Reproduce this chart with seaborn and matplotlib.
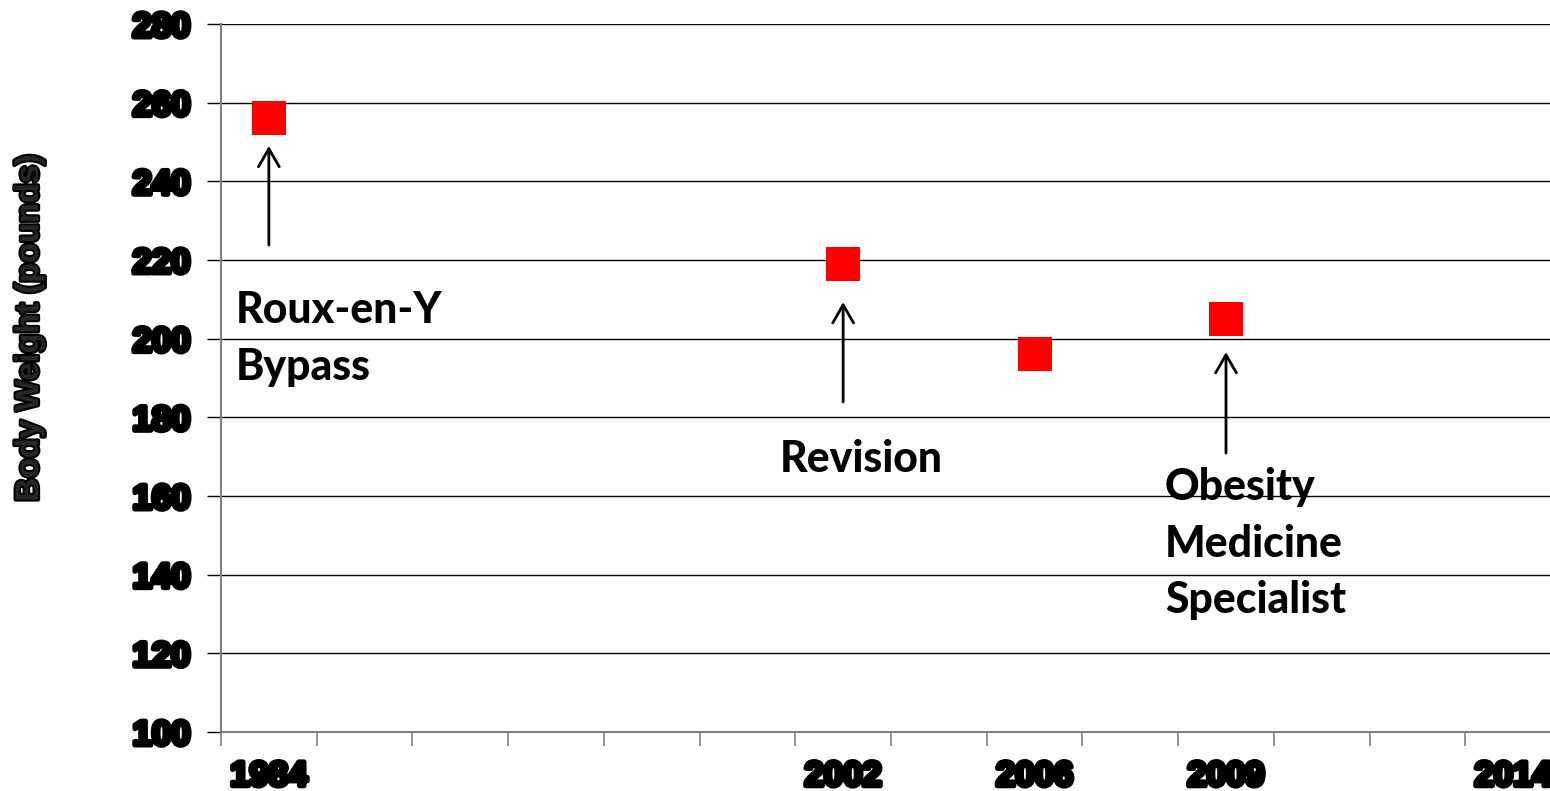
import matplotlib
matplotlib.use("Agg")
import matplotlib.pyplot as plt
import matplotlib.patheffects as pe
import seaborn as sns
import pandas as pd

# Category slots along the time axis (blank slots keep the spacing)
axis_labels = ["1984", "", "", "", "", "", "2002", "", "2006", "", "2009", "", "", "2014"]

# Measured body weights
years = ["1984", "2002", "2006", "2009"]
weights = [256, 219, 196, 205]

# Annotated events: year slot, arrow tail, arrow head, text
event_years = ["1984", "2002", "2009"]
event_tail = [223.8, 183.9, 170.9]
event_head = [249.0, 209.3, 196.6]
event_text = ["Roux-en-Y\nBypass", "Revision", "Obesity\nMedicine\nSpecialist"]
event_text_xy = [(-0.35, 212.3), (5.34, 174.5), (9.36, 167.3)]

y_ticks = list(range(100, 281, 20))

df = pd.DataFrame({
    "pos": [axis_labels.index(y) for y in years],
    "weight": weights,
})

sns.set_style("white")
fig = plt.figure(figsize=(15.5, 7.91), dpi=100)
ax = fig.add_axes([221 / 1550, 59 / 791, 1340 / 1550, 708 / 791])

sns.scatterplot(data=df, x="pos", y="weight", marker="s", s=600,
                color="#ff0000", linewidth=0, ax=ax, zorder=3, legend=False)

ax.set_xlim(-0.5, len(axis_labels) - 0.5)
ax.set_ylim(100, 280)

# Horizontal gridlines
ax.set_yticks(y_ticks)
ax.yaxis.grid(True, color="black", linewidth=1.0)
ax.xaxis.grid(False)
ax.set_axisbelow(True)

# Slot boundaries carry the tick marks, slot centres carry the labels
ax.set_xticks([i - 0.5 for i in range(len(axis_labels) + 1)])
ax.set_xticklabels([])
ax.set_xticks(list(range(len(axis_labels))), minor=True)
ax.set_xticklabels(axis_labels, minor=True)
ax.tick_params(axis="x", which="major", length=10, width=1.2, color="#808080",
               direction="out", bottom=True)
ax.tick_params(axis="x", which="minor", length=0, pad=20)
ax.tick_params(axis="y", length=10, width=1.0, color="black", direction="out",
               left=True, pad=12)

heavy = [pe.withStroke(linewidth=3.6, foreground="black")]
for lab in ax.get_yticklabels() + ax.get_xticklabels(minor=True):
    lab.set_fontfamily("Liberation Sans")
    lab.set_fontweight("bold")
    lab.set_fontsize(25)
    lab.set_color("black")
    lab.set_path_effects(heavy)

for side in ["top", "right"]:
    ax.spines[side].set_visible(False)
for side in ["left", "bottom"]:
    ax.spines[side].set_color("#808080")
    ax.spines[side].set_linewidth(1.5)

ax.set_xlabel("")
ax.set_ylabel("Body Weight (pounds)", fontfamily="Liberation Sans",
              fontweight="bold", fontsize=23.5,
              path_effects=[pe.withStroke(linewidth=3.0, foreground="black")])
ax.yaxis.set_label_coords(-0.1313, 0.5706)

# Event arrows and captions
for yr, tail, head, txt, (tx, ty) in zip(event_years, event_tail, event_head,
                                         event_text, event_text_xy):
    xpos = axis_labels.index(yr)
    ax.annotate("", xy=(xpos, head), xytext=(xpos, tail),
                arrowprops=dict(arrowstyle="->,head_length=1.3,head_width=0.75",
                                color="black", lw=2.0, shrinkA=0, shrinkB=0))
    ax.text(tx, ty, txt, fontfamily="Lato", fontweight=900, fontsize=30.8,
            ha="left", va="top", linespacing=1.5, color="black")

fig.savefig("out.png", dpi=100)
